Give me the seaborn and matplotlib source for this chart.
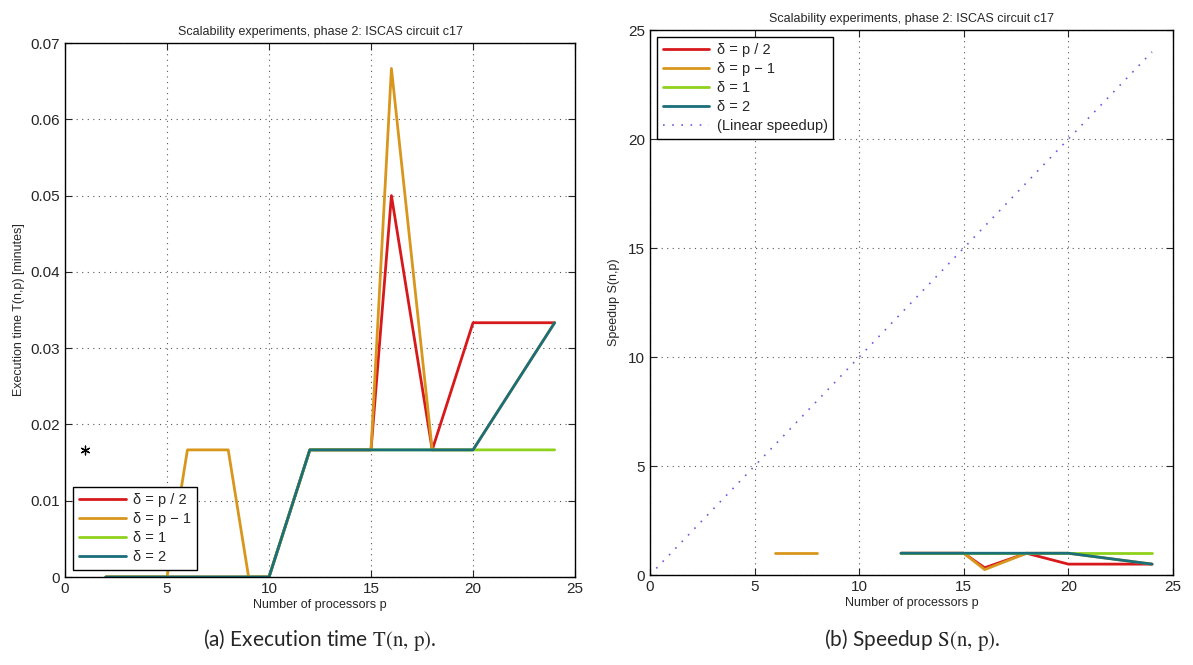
import numpy as np
import pandas as pd
import matplotlib
matplotlib.use("Agg")
import matplotlib.pyplot as plt
import seaborn as sns

# Processor counts and measured execution times (minutes)
procs = [2, 3, 4, 5, 6, 7, 8, 9, 10, 12, 15, 16, 18, 20, 24]
t_half = [0, 0, 0, 0, 0, 0, 0, 0, 0, 1/60, 1/60, 3/60, 1/60, 2/60, 2/60]
t_pm1 = [0, 0, 0, 0, 1/60, 1/60, 1/60, 0, 0, 1/60, 1/60, 4/60, 1/60, 1/60, 2/60]
t_one = [0, 0, 0, 0, 0, 0, 0, 0, 0, 1/60, 1/60, 1/60, 1/60, 1/60, 1/60]
t_two = [0, 0, 0, 0, 0, 0, 0, 0, 0, 1/60, 1/60, 1/60, 1/60, 1/60, 2/60]
serial_p = [1]
serial_t = [1/60]

series_names = ["δ = p / 2", "δ = p − 1", "δ = 1", "δ = 2"]
series_times = [t_half, t_pm1, t_one, t_two]
colors = ["#d7191c", "#d8961c", "#8fd21c", "#1a6f7a"]
palette = dict(zip(series_names, colors))

linear_p = [0, 24]

sns.set_style("ticks")
plt.rcParams["font.family"] = ["Liberation Sans", "DejaVu Sans"]
plt.rcParams["mathtext.fontset"] = "stix"


def long_frame(values_by_series):
    rows = []
    for name, vals in zip(series_names, values_by_series):
        seg = 0
        prev_nan = True
        for p, v in zip(procs, vals):
            if v is None or not np.isfinite(v):
                prev_nan = True
                continue
            if prev_nan:
                seg += 1
            prev_nan = False
            rows.append({"p": p, "v": v, "series": name, "seg": f"{name}-{seg}"})
    return pd.DataFrame(rows)


# Speedup relative to the serial run; zero times give no finite speedup
speedups = []
for vals in series_times:
    s = []
    for v in vals:
        s.append(serial_t[0] / v if v > 0 else np.nan)
    speedups.append(s)

df_time = long_frame(series_times)
df_speed = long_frame(speedups)

fig = plt.figure(figsize=(11.93, 6.65), dpi=100)
ax1 = fig.add_axes([0.0545, 0.1323, 0.4275, 0.803])
ax2 = fig.add_axes([0.5448, 0.1353, 0.4384, 0.8195])

title = "Scalability experiments, phase 2: ISCAS circuit c17"

sns.lineplot(data=df_time, x="p", y="v", hue="series", units="seg",
             estimator=None, sort=False, palette=palette,
             hue_order=series_names, linewidth=2, ax=ax1)
sns.scatterplot(x=serial_p, y=serial_t, marker=(6, 2, 0), s=40,
                color="black", linewidth=0.9, ax=ax1, legend=False)

sns.lineplot(data=df_speed, x="p", y="v", hue="series", units="seg",
             estimator=None, sort=False, palette=palette,
             hue_order=series_names, linewidth=2, ax=ax2)
sns.lineplot(x=linear_p, y=linear_p, color="#7d55d6", linestyle=(0, (1, 4.5)),
             linewidth=1.2, ax=ax2, label="(Linear speedup)")

for ax in (ax1, ax2):
    ax.set_xlim(0, 25)
    ax.set_xticks([0, 5, 10, 15, 20, 25])
    ax.grid(True, linestyle=(0, (1, 4)), color="0.35", linewidth=0.8)
    ax.tick_params(direction="in", top=True, right=True, length=5,
                   labelsize=11, width=0.8)
    for sp in ax.spines.values():
        sp.set_linewidth(1.0)
        sp.set_color("black")
    ax.set_xlabel("Number of processors p", fontsize=9, labelpad=2)
    ax.set_title(title, fontsize=9, pad=6)

ax1.set_ylim(0, 0.07)
ax1.set_yticks([0, 0.01, 0.02, 0.03, 0.04, 0.05, 0.06, 0.07])
ax1.set_yticklabels(["0", "0.01", "0.02", "0.03", "0.04", "0.05", "0.06", "0.07"])
ax1.set_ylabel("Execution time T(n,p) [minutes]", fontsize=9, labelpad=4)

ax2.set_ylim(0, 25)
ax2.set_yticks([0, 5, 10, 15, 20, 25])
ax2.set_ylabel("Speedup S(n,p)", fontsize=9, labelpad=6)

leg_kw = dict(fontsize=10.5, frameon=True, fancybox=False, framealpha=1,
              edgecolor="black", handlelength=3.2, handletextpad=0.5,
              borderpad=0.4, labelspacing=0.35, borderaxespad=0)
h1, l1 = ax1.get_legend_handles_labels()
lg1 = ax1.legend(h1, l1, loc="lower left", bbox_to_anchor=(0.016, 0.013), **leg_kw)
h2, l2 = ax2.get_legend_handles_labels()
lg2 = ax2.legend(h2, l2, loc="upper left", bbox_to_anchor=(0.013, 0.987), **leg_kw)
for lg in (lg1, lg2):
    lg.get_frame().set_linewidth(1.0)

cap_font = ["Lato", "DejaVu Sans"]
fig.text(0.268, 0.038, r"(a) Execution time $\mathrm{T}(\mathrm{n},\,\mathrm{p})$.",
         ha="center", va="center", fontsize=15, family=cap_font)
fig.text(0.765, 0.038, r"(b) Speedup $\mathrm{S}(\mathrm{n},\,\mathrm{p})$.",
         ha="center", va="center", fontsize=15, family=cap_font)

fig.savefig("out.png", dpi=100)
